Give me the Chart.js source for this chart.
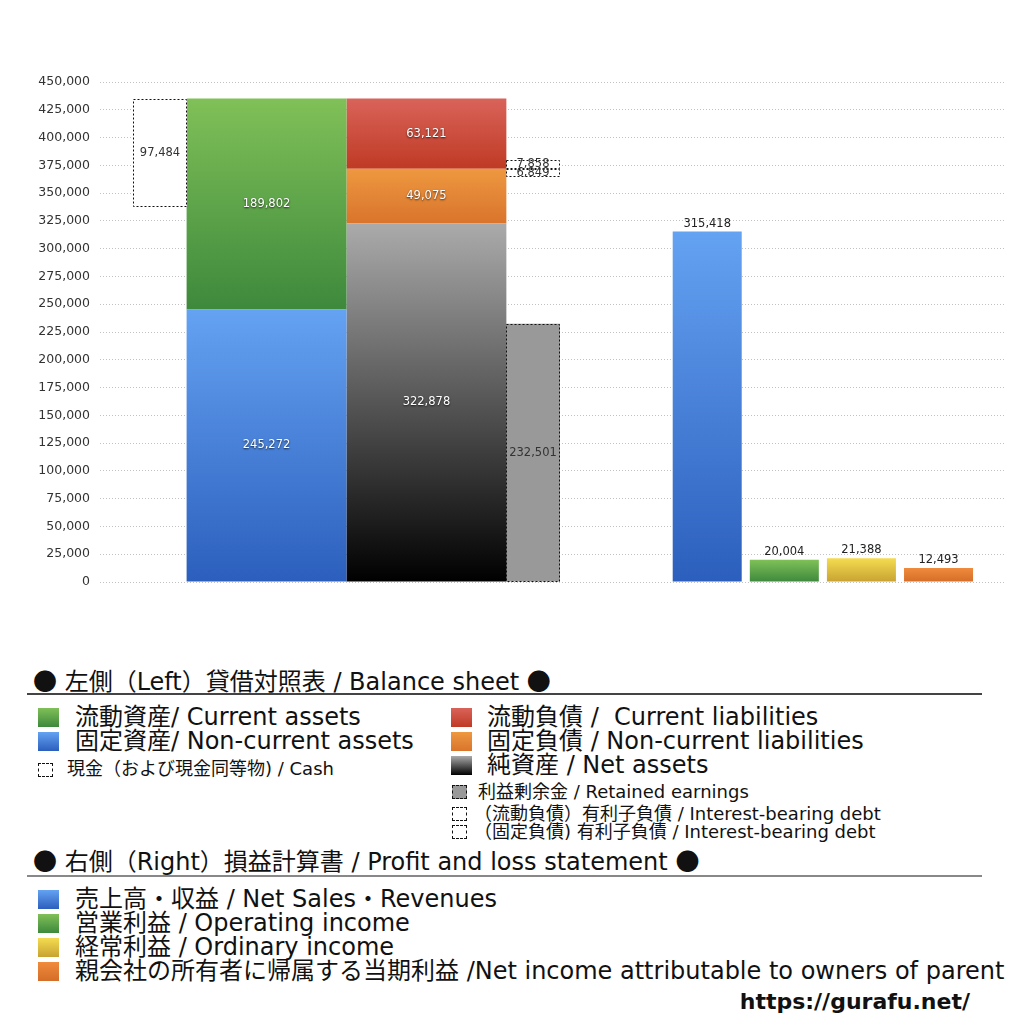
<!DOCTYPE html>
<html lang="ja">
<head>
<meta charset="utf-8">
<title>貸借対照表 / 損益計算書</title>
<script src="https://cdn.jsdelivr.net/npm/chart.js@4.4.1/dist/chart.umd.min.js"></script>
<style>
    body { margin: 0; background: #fff; font-family: "DejaVu Sans", "Noto Sans CJK JP", sans-serif; color: #111; }
    #page { position: relative; width: 1024px; height: 1024px; overflow: hidden; }
    #chartBox { position: absolute; left: 0; top: 0; width: 1024px; height: 640px; }
    .txt { position: absolute; white-space: pre; }
    .dot { font-family: "Noto Sans CJK JP", sans-serif; }
    .hdr { font-size: 24px; line-height: 28px; }
    .big { font-size: 24px; line-height: 24px; }
    .small { font-size: 18px; line-height: 18px; }
    .rule { position: absolute; left: 27px; width: 955px; }
    .sw { position: absolute; width: 21px; height: 19px; }
    .sw.mini { width: 13px; height: 12px; border: 1px dashed #111; background: #fff; }
    .url { position: absolute; right: 54px; top: 987px; font-size: 22px; font-weight: bold; line-height: 30px; }
</style>
</head>
<body>
<div id="page">
    <div id="chartBox"><canvas id="bsChart"></canvas></div>

    <div class="txt hdr" style="left:33px;top:666px"><span class="dot">●</span> 左側（Left）貸借対照表 / Balance sheet <span class="dot">●</span></div>
    <div class="rule" style="top:693px;height:2px;background:#444"></div>

    <div class="sw" style="left:38px;top:708px;background:linear-gradient(#80c058,#3d893c)"></div>
    <div class="txt big" style="left:75px;top:705px">流動資産/ Current assets</div>
    <div class="sw" style="left:38px;top:732px;background:linear-gradient(#64a2f2,#2c5fbd)"></div>
    <div class="txt big" style="left:75px;top:729px">固定資産/ Non-current assets</div>
    <div class="sw mini" style="left:38px;top:763px"></div>
    <div class="txt small" style="left:67px;top:760px">現金（および現金同等物) / Cash</div>

    <div class="sw" style="left:451px;top:708px;background:linear-gradient(#d9635a,#bf3a24)"></div>
    <div class="txt big" style="left:487px;top:705px">流動負債 /  Current liabilities</div>
    <div class="sw" style="left:451px;top:732px;background:linear-gradient(#ee9840,#d9742c)"></div>
    <div class="txt big" style="left:487px;top:729px">固定負債 / Non-current liabilities</div>
    <div class="sw" style="left:451px;top:756px;background:linear-gradient(#ababab,#000)"></div>
    <div class="txt big" style="left:487px;top:753px">純資産 / Net assets</div>
    <div class="sw mini" style="left:452px;top:785px;background:#999"></div>
    <div class="txt small" style="left:478px;top:783px">利益剰余金 / Retained earnings</div>
    <div class="sw mini" style="left:452px;top:807px"></div>
    <div class="txt small" style="left:474px;top:805px">（流動負債）有利子負債 / Interest-bearing debt</div>
    <div class="sw mini" style="left:452px;top:825px"></div>
    <div class="txt small" style="left:474px;top:823px">（固定負債) 有利子負債 / Interest-bearing debt</div>

    <div class="txt hdr" style="left:33px;top:846px"><span class="dot">●</span> 右側（Right）損益計算書 / Profit and loss statement <span class="dot">●</span></div>
    <div class="rule" style="top:875px;height:2px;background:#888"></div>

    <div class="sw" style="left:38px;top:890px;background:linear-gradient(#64a2f2,#2c5fbd)"></div>
    <div class="txt big" style="left:75px;top:887px">売上高・収益 / Net Sales・Revenues</div>
    <div class="sw" style="left:38px;top:914px;background:linear-gradient(#80c058,#3d893c)"></div>
    <div class="txt big" style="left:75px;top:911px">営業利益 / Operating income</div>
    <div class="sw" style="left:38px;top:938px;background:linear-gradient(#f4dc50,#c8a232)"></div>
    <div class="txt big" style="left:75px;top:935px">経常利益 / Ordinary income</div>
    <div class="sw" style="left:38px;top:962px;background:linear-gradient(#f08a3c,#d46e28)"></div>
    <div class="txt big" style="left:75px;top:959px">親会社の所有者に帰属する当期利益 /Net income attributable to owners of parent</div>

    <div class="url">https://gurafu.net/</div>
</div>

<script>
// Balance sheet (left) and P/L statement (right), values in million yen

// ---- data ----
const bsColumns = ['現金', '資産', '負債・純資産', '利益剰余金'];
const assetNames = ['固定資産', '流動資産'];          // bottom -> top
const assetValues = [245272, 189802];
const liabilityNames = ['純資産', '固定負債', '流動負債'];  // bottom -> top
const liabilityValues = [322878, 49075, 63121];
const cashValue = 97484;
const retainedEarnings = 232501;
const debtNames = ['(固定負債) 有利子負債', '(流動負債) 有利子負債'];
const debtValues = [6849, 7858];
const plNames = ['売上高・収益', '営業利益', '経常利益', '親会社の所有者に帰属する当期利益'];
const plValues = [315418, 20004, 21388, 12493];
const yMax = 450000;
const yStep = 25000;

// ---- layout: columns sit on a grid of hidden category slots ----
const bsSlotCount = 68;
const bsSlotIndex = [4, 12, 24, 32];
const plSlotCount = 47;
const plSlotIndex = [31, 35, 39, 43];

function slotLabels(count, indexes, names) {
    const labels = Array(count).fill('');
    indexes.forEach((slot, i) => { labels[slot] = names[i]; });
    return labels;
}
const bsLabels = slotLabels(bsSlotCount, bsSlotIndex, bsColumns);
const plLabels = slotLabels(plSlotCount, plSlotIndex, plNames);

// cumulative [start, end] ranges for the stacked columns
function stackRanges(values) {
    let acc = 0;
    return values.map(v => { const r = [acc, acc + v]; acc += v; return r; });
}
const assetRanges = stackRanges(assetValues);
const liabilityRanges = stackRanges(liabilityValues);
const totalAssets = assetRanges[assetRanges.length - 1][1];
const currentLiabStart = liabilityRanges[2][0];

// top / bottom colours of each vertical gradient
const colors = {
    blue: ['#64a2f2', '#2c5fbd'],
    green: ['#80c058', '#3d893c'],
    red: ['#d9635a', '#bf3a24'],
    orange: ['#ee9840', '#d9742c'],
    black: ['#ababab', '#000000'],
    yellow: ['#f4dc50', '#c8a232'],
    amber: ['#f08a3c', '#d46e28']
};
const plColors = [colors.blue, colors.green, colors.yellow, colors.amber];

function gradientFill(pick) {
    return function(ctx) {
        const pair = pick(ctx);
        const chart = ctx.chart;
        if (ctx.type !== 'data' || !chart.chartArea) return pair[1];
        const y = chart.scales.y;
        const top = y.getPixelForValue(ctx.raw.y[1]);
        const bottom = y.getPixelForValue(ctx.raw.y[0]);
        const g = chart.ctx.createLinearGradient(0, top, 0, bottom);
        g.addColorStop(0, pair[0]);
        g.addColorStop(1, pair[1]);
        return g;
    };
}

const lightLabel = { mode: 'inside', color: '#fff', shadow: true };
const darkLabel = { mode: 'inside', color: '#333', shadow: false };

function bsBar(label, column, range, fill, width, extra) {
    return Object.assign({
        label: label,
        xAxisID: 'xL',
        data: [{ x: bsColumns[column], y: range }],
        backgroundColor: fill,
        barPercentage: width,
        categoryPercentage: 1,
        grouped: false,
        borderWidth: 0
    }, extra);
}

const datasets = [
    bsBar('現金', 0, [totalAssets - cashValue, totalAssets], '#fff', 4.05, { dashed: true, valueLabel: darkLabel }),
    bsBar(assetNames[0], 1, assetRanges[0], gradientFill(() => colors.blue), 12, { valueLabel: lightLabel }),
    bsBar(assetNames[1], 1, assetRanges[1], gradientFill(() => colors.green), 12, { valueLabel: lightLabel }),
    bsBar(liabilityNames[0], 2, liabilityRanges[0], gradientFill(() => colors.black), 12, { valueLabel: lightLabel }),
    bsBar(liabilityNames[1], 2, liabilityRanges[1], gradientFill(() => colors.orange), 12, { valueLabel: lightLabel }),
    bsBar(liabilityNames[2], 2, liabilityRanges[2], gradientFill(() => colors.red), 12, { valueLabel: lightLabel }),
    bsBar('利益剰余金', 3, [0, retainedEarnings], '#999', 4.05, { dashed: true, valueLabel: darkLabel }),
    bsBar(debtNames[0], 3, [currentLiabStart - debtValues[0], currentLiabStart], '#fff', 4.05, { dashed: true, valueLabel: darkLabel }),
    bsBar(debtNames[1], 3, [currentLiabStart, currentLiabStart + debtValues[1]], '#fff', 4.05, { dashed: true, valueLabel: darkLabel }),
    {
        label: '損益計算書',
        xAxisID: 'xR',
        data: plValues.map((v, i) => ({ x: plNames[i], y: [0, v] })),
        backgroundColor: gradientFill(ctx => plColors[ctx.dataIndex] || colors.blue),
        barPercentage: 3.58,
        categoryPercentage: 1,
        grouped: false,
        borderWidth: 0,
        valueLabel: { mode: 'above', color: '#222', shadow: false }
    }
];

const fmt = v => Math.round(v).toLocaleString('en-US');

// dashed outlines and the value text on each bar
const barDecorations = {
    id: 'barDecorations',
    afterDatasetsDraw(chart) {
        const c = chart.ctx;
        chart.data.datasets.forEach((ds, i) => {
            if (!ds.dashed) return;
            chart.getDatasetMeta(i).data.forEach(bar => {
                const p = bar.getProps(['x', 'y', 'base', 'width'], true);
                c.save();
                c.setLineDash([2, 2]);
                c.strokeStyle = '#111';
                c.lineWidth = 1;
                c.strokeRect(Math.round(p.x - p.width / 2) + 0.5, Math.round(p.y) + 0.5,
                    Math.round(p.width) - 1, Math.round(p.base - p.y) - 1);
                c.restore();
            });
        });
        chart.data.datasets.forEach((ds, i) => {
            const opt = ds.valueLabel;
            if (!opt) return;
            chart.getDatasetMeta(i).data.forEach((bar, j) => {
                const range = ds.data[j].y;
                const p = bar.getProps(['x', 'y', 'base'], true);
                const ty = opt.mode === 'above' ? p.y - 8 : (p.y + p.base) / 2;
                c.save();
                c.font = '11.5px "DejaVu Sans", sans-serif';
                c.textAlign = 'center';
                c.textBaseline = 'middle';
                if (opt.shadow) {
                    c.shadowColor = 'rgba(0,0,0,0.75)';
                    c.shadowBlur = 2;
                    c.shadowOffsetY = 1;
                }
                c.fillStyle = opt.color;
                c.fillText(fmt(range[1] - range[0]), p.x, ty);
                c.restore();
            });
        });
    }
};

// hidden slot axes: every slot must stay a tick so bar widths follow the slot size
const slotAxis = labels => ({
    type: 'category',
    labels: labels,
    offset: true,
    display: false,
    ticks: { autoSkip: false }
});

document.addEventListener('DOMContentLoaded', function() {
    const ctx = document.getElementById('bsChart');
    new Chart(ctx, {
        type: 'bar',
        data: { datasets: datasets },
        options: {
            responsive: true,
            maintainAspectRatio: false,
            animation: false,
            events: [],
            layout: { padding: { top: 82, right: 18, bottom: 58, left: 0 } },
            plugins: {
                legend: { display: false },
                tooltip: { enabled: false }
            },
            scales: {
                xL: slotAxis(bsLabels),
                xR: slotAxis(plLabels),
                y: {
                    min: 0,
                    max: yMax,
                    afterFit: scale => { scale.width = 100; },
                    ticks: {
                        stepSize: yStep,
                        padding: 10,
                        color: '#333',
                        font: { family: '"DejaVu Sans", sans-serif', size: 12.5 },
                        callback: v => fmt(v)
                    },
                    grid: { color: '#c2c2c2', drawTicks: false },
                    border: { display: false, dash: [1, 2] }
                }
            }
        },
        plugins: [barDecorations]
    });
});
</script>
</body>
</html>
